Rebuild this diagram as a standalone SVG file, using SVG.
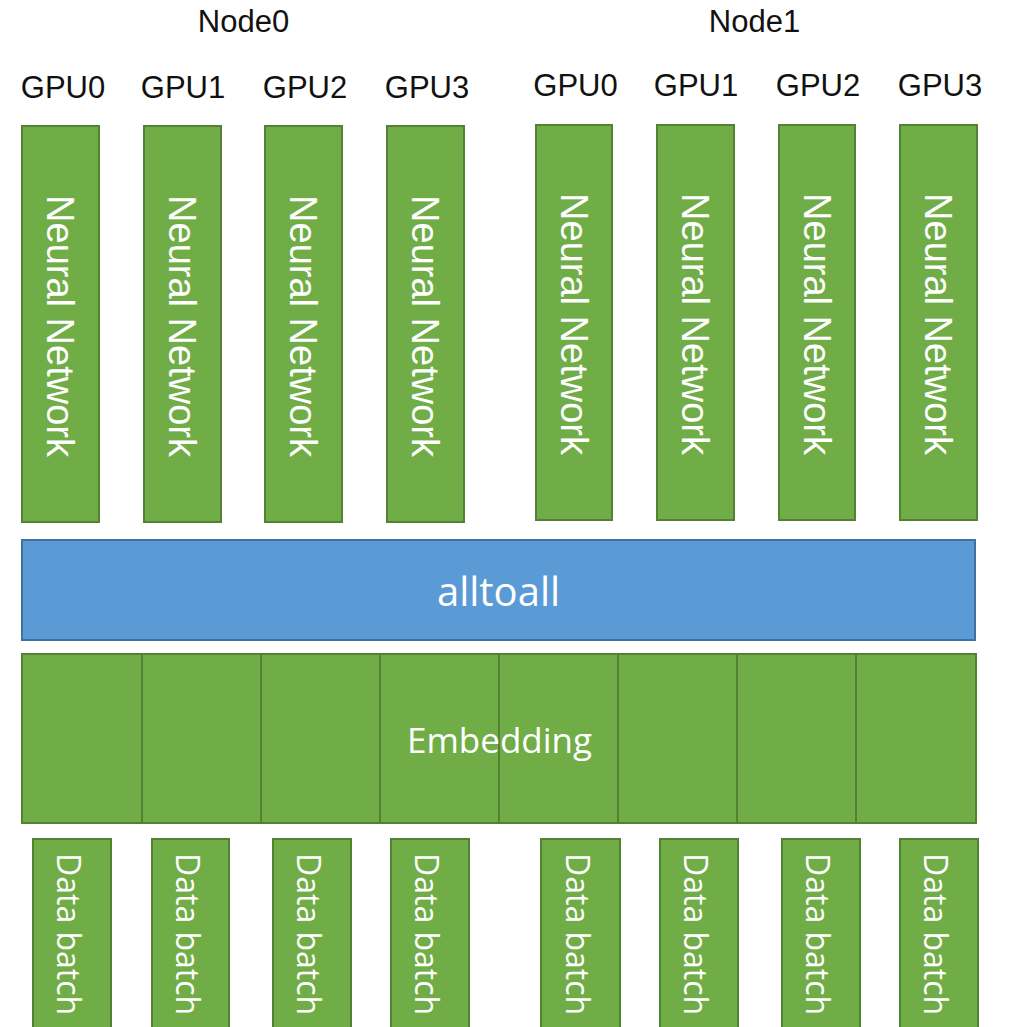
<svg xmlns="http://www.w3.org/2000/svg" width="1012" height="1027" viewBox="0 0 1012 1027">
  <style>
    .head { font-family: "Liberation Sans", Arial, sans-serif; font-size: 31px; fill: #111; text-anchor: middle; }
    .gbox { fill: #70AD47; stroke: #548235; stroke-width: 2; }
    .bbox { fill: #5B9BD5; stroke: #41719C; stroke-width: 2; }
    .div { stroke: #548235; stroke-width: 2; }
    .nn { font-family: "Liberation Sans", Arial, sans-serif; font-size: 38px; fill: #fff; text-anchor: middle; }
    .lbl { font-family: "Open Sans", sans-serif; fill: #fff; text-anchor: middle; }
    .db { font-family: "Open Sans", sans-serif; font-size: 32px; fill: #fff; text-anchor: start; }
  </style>
  <rect width="1012" height="1027" fill="#fff"/>

  <!-- node headings -->
  <text class="head" x="243.5" y="32">Node0</text>
  <text class="head" x="754.5" y="32">Node1</text>

  <!-- GPU headings -->
  <g id="gpu-labels">
    <text class="head" x="63" y="98">GPU0</text>
    <text class="head" x="183" y="98">GPU1</text>
    <text class="head" x="305" y="98">GPU2</text>
    <text class="head" x="427" y="98">GPU3</text>
    <text class="head" x="575.5" y="96">GPU0</text>
    <text class="head" x="696" y="96">GPU1</text>
    <text class="head" x="818" y="96">GPU2</text>
    <text class="head" x="940" y="96">GPU3</text>
  </g>

  <!-- neural network towers, one per GPU -->
  <g id="nn-n0-g0"><rect class="gbox" x="22" y="126" width="77" height="396"/><text class="nn" transform="translate(47,326) rotate(90)">Neural Network</text></g>
  <g id="nn-n0-g1"><rect class="gbox" x="144" y="126" width="77" height="396"/><text class="nn" transform="translate(169,326) rotate(90)">Neural Network</text></g>
  <g id="nn-n0-g2"><rect class="gbox" x="265" y="126" width="77" height="396"/><text class="nn" transform="translate(290,326) rotate(90)">Neural Network</text></g>
  <g id="nn-n0-g3"><rect class="gbox" x="387" y="126" width="77" height="396"/><text class="nn" transform="translate(412,326) rotate(90)">Neural Network</text></g>
  <g id="nn-n1-g0"><rect class="gbox" x="536" y="125" width="76" height="395"/><text class="nn" transform="translate(560.5,324) rotate(90)">Neural Network</text></g>
  <g id="nn-n1-g1"><rect class="gbox" x="657" y="125" width="77" height="395"/><text class="nn" transform="translate(682,324) rotate(90)">Neural Network</text></g>
  <g id="nn-n1-g2"><rect class="gbox" x="779" y="125" width="76" height="395"/><text class="nn" transform="translate(803.5,324) rotate(90)">Neural Network</text></g>
  <g id="nn-n1-g3"><rect class="gbox" x="900" y="125" width="77" height="395"/><text class="nn" transform="translate(925,324) rotate(90)">Neural Network</text></g>

  <!-- collective communication layer -->
  <g id="alltoall">
    <rect class="bbox" x="22" y="540" width="953" height="100"/>
    <text class="lbl" x="498.5" y="606" font-size="40">alltoall</text>
  </g>

  <!-- sharded embedding table -->
  <g id="embedding">
    <rect class="gbox" x="22" y="654" width="954" height="169"/>
    <g class="div">
      <line x1="142" y1="654" x2="142" y2="823"/>
      <line x1="261" y1="654" x2="261" y2="823"/>
      <line x1="380" y1="654" x2="380" y2="823"/>
      <line x1="499" y1="654" x2="499" y2="823"/>
      <line x1="618" y1="654" x2="618" y2="823"/>
      <line x1="737" y1="654" x2="737" y2="823"/>
      <line x1="856" y1="654" x2="856" y2="823"/>
    </g>
    <text class="lbl" x="499.5" y="753" font-size="35">Embedding</text>
  </g>

  <!-- per-GPU input batches -->
  <g id="batch-n0-g0"><rect class="gbox" x="33" y="839" width="78" height="200"/><text class="db" transform="translate(57,853) rotate(90)">Data batch</text></g>
  <g id="batch-n0-g1"><rect class="gbox" x="152" y="839" width="77" height="200"/><text class="db" transform="translate(176,853) rotate(90)">Data batch</text></g>
  <g id="batch-n0-g2"><rect class="gbox" x="273" y="839" width="78" height="200"/><text class="db" transform="translate(297,853) rotate(90)">Data batch</text></g>
  <g id="batch-n0-g3"><rect class="gbox" x="391" y="839" width="78" height="200"/><text class="db" transform="translate(415,853) rotate(90)">Data batch</text></g>
  <g id="batch-n1-g0"><rect class="gbox" x="541" y="839" width="79" height="200"/><text class="db" transform="translate(566,853) rotate(90)">Data batch</text></g>
  <g id="batch-n1-g1"><rect class="gbox" x="660" y="839" width="78" height="200"/><text class="db" transform="translate(684,853) rotate(90)">Data batch</text></g>
  <g id="batch-n1-g2"><rect class="gbox" x="782" y="839" width="78" height="200"/><text class="db" transform="translate(806,853) rotate(90)">Data batch</text></g>
  <g id="batch-n1-g3"><rect class="gbox" x="900" y="839" width="78" height="200"/><text class="db" transform="translate(924,853) rotate(90)">Data batch</text></g>

  <!-- no connectors in this figure -->
  <g id="connectors"/>
</svg>
